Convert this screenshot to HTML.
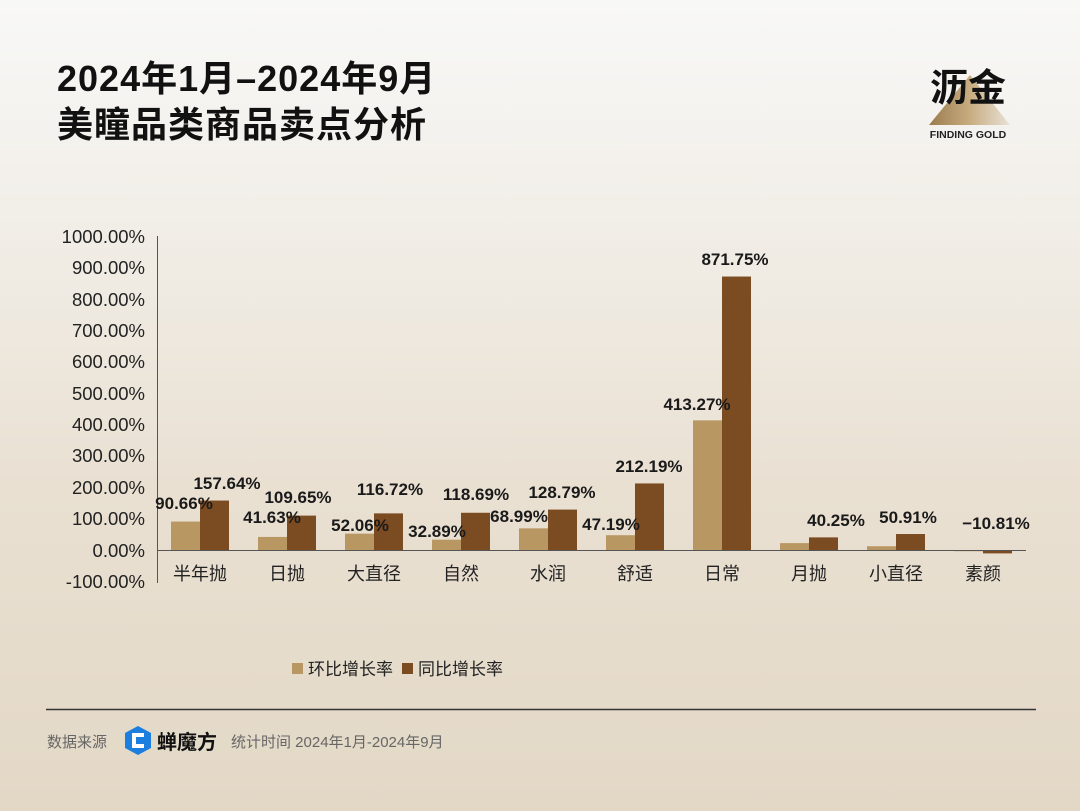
<!DOCTYPE html>
<html><head><meta charset="utf-8"><style>
body{margin:0;width:1080px;height:811px;overflow:hidden;font-family:"Liberation Sans","Noto Sans CJK SC",sans-serif;background:linear-gradient(180deg,#f8f8f7 0%,#f2efe9 25%,#e9e0d2 60%,#e3d8c6 100%);position:relative}
.t{position:absolute;left:57px;font-size:36px;font-weight:bold;color:#111;line-height:44px;letter-spacing:1px}
</style></head><body>
<div class="t" style="top:57px">2024年1月–2024年9月</div>
<div class="t" style="top:103px">美瞳品类商品卖点分析</div>
<svg width="1080" height="811" style="position:absolute;left:0;top:0" font-family="Liberation Sans, Noto Sans CJK SC, sans-serif">
<defs><linearGradient id="g" x1="0" x2="1"><stop offset="0" stop-color="#9a7c4e"/><stop offset="0.5" stop-color="#c8ac80"/><stop offset="1" stop-color="#e8e2d8"/></linearGradient></defs>
<polygon points="929,125 970,75 1010,125" fill="url(#g)"/>
<text x="968" y="101" font-size="38" text-anchor="middle" fill="#111" font-weight="bold">沥金</text>
<text x="968" y="138" font-size="10.5" text-anchor="middle" fill="#222" font-weight="bold">FINDING GOLD</text>
<g font-size="18.5" fill="#222" text-anchor="end">
<text x="145" y="243">1000.00%</text><text x="145" y="274">900.00%</text><text x="145" y="306">800.00%</text><text x="145" y="337">700.00%</text><text x="145" y="368">600.00%</text><text x="145" y="400">500.00%</text><text x="145" y="431">400.00%</text><text x="145" y="462">300.00%</text><text x="145" y="494">200.00%</text><text x="145" y="525">100.00%</text><text x="145" y="557">0.00%</text><text x="145" y="588">-100.00%</text>
</g>
<line x1="157.5" y1="236" x2="157.5" y2="583" stroke="#555"/>
<g id="bars"></g>
<g font-size="18" fill="#222" text-anchor="middle">
<text x="200" y="580">半年抛</text><text x="287" y="580">日抛</text><text x="374" y="580">大直径</text><text x="461" y="580">自然</text><text x="548" y="580">水润</text><text x="635" y="580">舒适</text><text x="722" y="580">日常</text><text x="809" y="580">月抛</text><text x="896" y="580">小直径</text><text x="983" y="580">素颜</text>
</g>
<line x1="157" y1="550.5" x2="1026" y2="550.5" stroke="#555"/>
<g font-size="17" fill="#1a1a1a" text-anchor="middle" font-weight="bold">
<text x="184" y="509">90.66%</text><text x="227" y="489">157.64%</text>
<text x="272" y="523">41.63%</text><text x="298" y="503">109.65%</text>
<text x="360" y="531">52.06%</text><text x="390" y="495">116.72%</text>
<text x="437" y="537">32.89%</text><text x="476" y="500">118.69%</text>
<text x="519" y="522">68.99%</text><text x="562" y="498">128.79%</text>
<text x="611" y="530">47.19%</text><text x="649" y="472">212.19%</text>
<text x="697" y="410">413.27%</text><text x="735" y="265">871.75%</text>
<text x="836" y="526">40.25%</text><text x="908" y="523">50.91%</text>
<text x="996" y="529">−10.81%</text>
</g>
<rect x="292" y="663" width="11" height="11" fill="#b99762"/><text x="308" y="675" font-size="17" fill="#222">环比增长率</text>
<rect x="402" y="663" width="11" height="11" fill="#7b4b22"/><text x="418" y="675" font-size="17" fill="#222">同比增长率</text>
<line x1="46" y1="709.5" x2="1036" y2="709.5" stroke="#333" stroke-width="1.5"/>
<text x="47" y="747" font-size="15" fill="#666">数据来源</text>
<polygon points="138,726 151,733 151,748 138,755 125,748 125,733" fill="#1c7fe0"/>
<path d="M144,735 L134,735 L134,746 L144,746" stroke="#fff" stroke-width="4" fill="none"/>
<text x="157" y="749" font-size="20" fill="#111" font-weight="bold">蝉魔方</text>
<text x="231" y="747" font-size="15" fill="#666">统计时间 2024年1月-2024年9月</text>
</svg>
<script>
var v=[[90.66,157.64],[41.63,109.65],[52.06,116.72],[32.89,118.69],[68.99,128.79],[47.19,212.19],[413.27,871.75],[22,40.25],[12,50.91],[-4,-10.81]];
var s="",k=0.3137;
v.forEach(function(p,i){var c=200+87*i;
[0,1].forEach(function(j){var h=p[j]*k,y=h>=0?550-h:550,x=j?c:c-29;
s+='<rect x="'+x+'" y="'+y+'" width="29" height="'+Math.abs(h)+'" fill="'+(j?'#7b4b22':'#b99762')+'"/>';});});
document.getElementById('bars').innerHTML=s;
</script>
</body></html>
